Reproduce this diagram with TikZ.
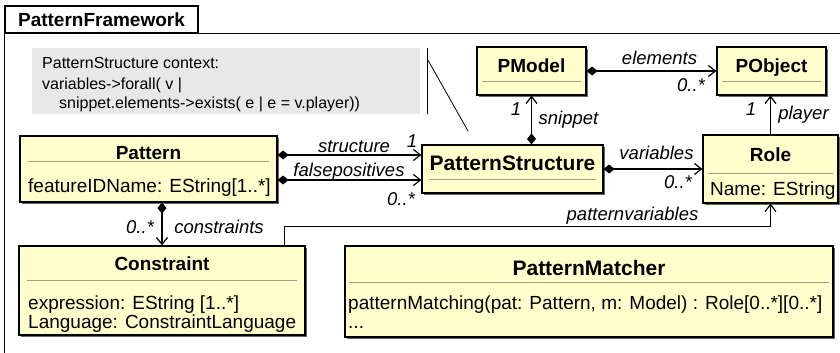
\documentclass[tikz,border=0pt]{standalone}
\usepackage{fontspec}
\setmainfont{Liberation Sans}
\usepackage{tikz}
\usetikzlibrary{arrows.meta,shadows}
\definecolor{classfill}{HTML}{FFFFCC}
\definecolor{notefill}{HTML}{E8E8E8}
\definecolor{sepline}{HTML}{A0A080}

\begin{document}
\begin{tikzpicture}[
    x=1pt, y=-1pt,
    cls/.style={draw, line width=1.2pt, fill=classfill, inner sep=0pt,
                drop shadow={shadow xshift=2pt, shadow yshift=-2pt,
                             fill=black!60, opacity=1}},
    ttl/.style={font=\bfseries\fontsize{19}{21}\selectfont,
                anchor=base, inner sep=0pt},
    bigttl/.style={font=\bfseries\fontsize{21}{23}\selectfont,
                   anchor=base, inner sep=0pt},
    attr/.style={font=\fontsize{19}{21}\selectfont,
                 anchor=base west, inner sep=0pt},
    notetxt/.style={font=\fontsize{16}{20}\selectfont,
                    anchor=base west, inner sep=0pt},
    lbl/.style={font=\itshape\fontsize{18.5}{20}\selectfont,
                anchor=base, inner sep=0pt},
    sep/.style={sepline, line width=1pt},
    comp/.style={{Diamond[length=11pt,width=9pt]}-{Straight Barb[length=7pt,width=11pt]},
                 line width=1.2pt},
    nav/.style={-{Straight Barb[length=7pt,width=11pt]}, line width=1.2pt},
]
\useasboundingbox (0,0) rectangle (840,353);

% package frame
\node[draw, line width=1.5pt, minimum width=193pt, minimum height=27pt,
      inner sep=0pt, font=\bfseries\fontsize{19}{21}\selectfont]
    (tab) at (101.5,19.5) {PatternFramework};
\draw[line width=1.5pt] (tab.south west) -- ++(850,0);
\draw[line width=1.5pt] (tab.south west) -- ++(0,340);

% OCL note
\node[fill=notefill, minimum width=388pt, minimum height=66pt, inner sep=0pt]
    (note) at (226,81) {};
\node[notetxt] (note1) at (42,69) {PatternStructure context:};
\node[notetxt] (note2) at (42,89) {variables->forall( v |};
\node[notetxt] (note3) at (59,108) {snippet.elements->exists( e | e = v.player))};
\coordinate (notetip) at (468,131);
\draw[line width=0.8pt] ([xshift=7pt]note.north east) -- ([xshift=7pt]note.south east);
\draw[line width=0.8pt] ([xshift=7pt,yshift=-11pt]note.north east) -- (notetip);

% classes
\node[cls, minimum width=257pt, minimum height=66pt] (pattern) at (148.5,169) {};
\node[ttl] (patternt) at (148.5,159) {Pattern};
\draw[sep] (28,161) -- (269,161);
\node[attr] (patterna) at (28,192) {featureIDName: EString[1..*]};

\node[cls, minimum width=286pt, minimum height=89pt] (constraint) at (162,290.5) {};
\node[ttl] (constraintt) at (162,270) {Constraint};
\draw[sep] (27,280) -- (297,280);
\node[attr] (constrainta) at (28,309) {expression: EString [1..*]};
\node[attr] (constraintb) at (28,328) {Language: ConstraintLanguage};

\node[cls, minimum width=488pt, minimum height=91pt] (matcher) at (589,291.5) {};
\node[bigttl] (matchert) at (589,275) {PatternMatcher};
\draw[sep] (349,282) -- (829,282);
\node[attr] (matchera) at (348,309) {patternMatching(pat: Pattern, m: Model) : Role[0..*][0..*]};
\node[attr] (matcherb) at (348,328) {...};

\node[cls, minimum width=181pt, minimum height=48pt] (pstruct) at (512.5,169) {};
\node[bigttl] (pstructt) at (512.5,170) {PatternStructure};
\draw[sep] (429,179) -- (596,179);

\node[cls, minimum width=109pt, minimum height=48pt] (pmodel) at (531.5,71) {};
\node[ttl] (pmodelt) at (531.5,73) {PModel};
\draw[sep] (482,81) -- (581,81);

\node[cls, minimum width=109pt, minimum height=48pt] (pobject) at (771.5,71) {};
\node[ttl] (pobjectt) at (771.5,73) {PObject};
\draw[sep] (722,81) -- (821,81);

\node[cls, minimum width=135pt, minimum height=68pt] (role) at (770.5,169) {};
\node[ttl] (rolet) at (770.5,161) {Role};
\draw[sep] (708,173) -- (833,173);
\node[attr] (rolea) at (710,195) {Name: EString};

% associations
\draw[comp] ([yshift=14pt]pattern.east) -- ([yshift=14pt]pstruct.west);
\draw[comp] ([yshift=-11pt]pattern.east) -- ([yshift=-11pt]pstruct.west);
\draw[comp] (pstruct.north -| pmodel.south) -- (pmodel.south);
\draw[comp] (pmodel.east) -- (pobject.west);
\draw[comp] (pstruct.east) -- (role.west);
\draw[comp] (pattern.south -| constraint.north) -- (constraint.north);
\draw[nav] (role.north) -- (role.north |- pobject.south);
\draw[nav] ([xshift=-21pt]constraint.north east) |- ([yshift=-23pt]role.south) -- (role.south);

% role names and multiplicities
\node[lbl] (structl) at (354,152) {structure};
\node[lbl] (structm) at (412,147) {1};
\node[lbl] (falsel) at (349,176) {falsepositives};
\node[lbl] (falsem) at (401,205) {0..*};
\node[lbl] (snipl) at (568.5,124) {snippet};
\node[lbl] (snipm) at (516,115) {1};
\node[lbl] (elemsl) at (659.5,64) {elements};
\node[lbl] (elemsm) at (691,92) {0..*};
\node[lbl] (playerl) at (803.5,119) {player};
\node[lbl] (playerm) at (751,115) {1};
\node[lbl] (varsl) at (656.5,159) {variables};
\node[lbl] (varsm) at (678,188) {0..*};
\node[lbl] (constrl) at (219,233) {constraints};
\node[lbl] (constrm) at (140,233) {0..*};
\node[lbl] (pvarsl) at (632.5,220) {patternvariables};
\end{tikzpicture}
\end{document}
